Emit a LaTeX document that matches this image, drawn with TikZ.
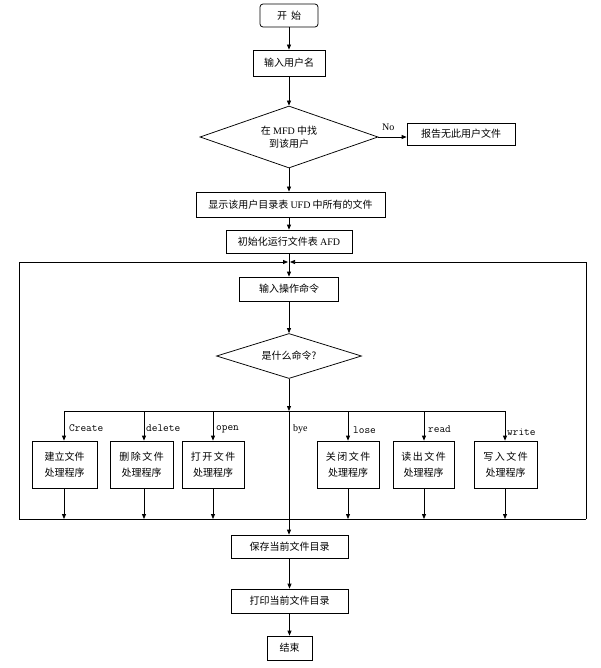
\documentclass[tikz,border=0pt]{standalone}
\usepackage{fontspec}
\setmainfont{Liberation Serif}
\newfontfamily\cjk{Noto Sans CJK SC}
\usetikzlibrary{shapes.geometric,arrows.meta}
\newcommand\lsk{\kern1.5pt}
\begin{document}
\begin{tikzpicture}[x=1pt,y=-1pt,
  box/.style={draw, line width=0.75pt, inner sep=0pt, align=center,
    font=\cjk\fontsize{10}{16}\selectfont},
  dia/.style={draw, line width=0.75pt, diamond, aspect=3, inner sep=0pt, align=center,
    font=\cjk\fontsize{10}{13}\selectfont},
  arr/.style={draw, line width=0.75pt, -{Triangle[length=5pt,width=4pt]}},
  ln/.style={draw, line width=0.75pt},
  lbl/.style={anchor=west, inner sep=0pt, font=\ttfamily\fontsize{11}{12}\selectfont},
  slbl/.style={anchor=west, inner sep=0pt, font=\rmfamily\fontsize{10}{12}\selectfont},
]
\useasboundingbox (0,0) rectangle (600,668);
% main column
\node[box, rounded corners=3pt, minimum width=58pt, minimum height=23pt] (start) at (289,15.5) {开\kern4pt 始};
\node[box, minimum width=72pt, minimum height=26pt] (inname) at (289,63) {输入用户名};
\node[dia, minimum width=178pt, minimum height=62pt] (d1) at (289,137) {在 {\rmfamily MFD} 中找\\到该用户};
\node[box, minimum width=108pt, minimum height=22pt] (report) at (461,134) {报告无此用户文件};
\node[box, minimum width=189pt, minimum height=25pt] (show) at (290.5,204.5) {显示该用户目录表 {\rmfamily UFD} 中所有的文件};
\node[box, minimum width=126pt, minimum height=23pt] (init) at (289,241.5) {初始化运行文件表 {\rmfamily AFD}};
\node[box, minimum width=99pt, minimum height=24pt] (cmd) at (289,289) {输入操作命令};
\node[dia, minimum width=145pt, minimum height=45pt] (d2) at (289,356) {是什么命令?};
% process boxes
\node[box, minimum width=65pt, minimum height=47pt] (pcreate) at (64.5,464.5) {建立文件\\处理程序};
\node[box, minimum width=63pt, minimum height=47pt] (pdelete) at (141.5,464.5) {删\lsk 除\lsk 文\lsk 件\\处理程序};
\node[box, minimum width=62pt, minimum height=47pt] (popen) at (213,464.5) {打\lsk 开\lsk 文\lsk 件\\处理程序};
\node[box, minimum width=62pt, minimum height=47pt] (pclose) at (348,464.5) {关\lsk 闭\lsk 文\lsk 件\\处理程序};
\node[box, minimum width=61pt, minimum height=47pt] (pread) at (423.5,464.5) {读\lsk 出\lsk 文\lsk 件\\处理程序};
\node[box, minimum width=63pt, minimum height=47pt] (pwrite) at (505.5,464.5) {写\lsk 入\lsk 文\lsk 件\\处理程序};
% lower column
\node[box, minimum width=117pt, minimum height=23pt] (save) at (289.5,546.5) {保存当前文件目录};
\node[box, minimum width=117pt, minimum height=24pt] (print) at (289.5,601) {打印当前文件目录};
\node[box, minimum width=45pt, minimum height=24pt] (stop) at (289.5,648) {结束};
% coordinates
\coordinate (fbl) at (19,519);
\coordinate (fbr) at (586,519);
\coordinate (ftl) at (19,262);
\coordinate (ftr) at (586,262);
\coordinate (ftm) at (289,262);
\coordinate (bc) at (64,411);
\coordinate (bd) at (144,411);
\coordinate (bo) at (213,411);
\coordinate (bm) at (289,411);
\coordinate (bl) at (348,411);
\coordinate (br) at (424,411);
\coordinate (bw) at (505,411);
% connectors
\draw[arr] (start) -- (inname);
\draw[arr] (inname) -- (d1);
\draw[arr] (d1.east) -- (d1.east -| report.west);
\node[slbl] (no) at (382,127) {No};
\draw[arr] (d1) -- (d1.south |- show.north);
\draw[arr] (init.north |- show.south) -- (init);
% loop frame
\draw[ln] (fbl) -- (fbr);
\draw[arr] (fbl) -- (ftl) -- ([xshift=-1pt]ftm);
\draw[arr] (fbr) -- (ftr) -- ([xshift=1pt]ftm);
\draw[arr] (init) -- (cmd);
\draw[arr] (cmd) -- (d2);
\draw[arr] (d2.south -| bm) -- (bm);
\draw[ln] (bc) -- (bw);
\draw[arr] (bm) -- (bm |- save.north);
% branches
\draw[arr] (bc) -- (bc |- pcreate.north);
\draw[arr] (bd) -- (bd |- pdelete.north);
\draw[arr] (bo) -- (bo |- popen.north);
\draw[arr] (bl) -- (bl |- pclose.north);
\draw[arr] (br) -- (br |- pread.north);
\draw[arr] (bw) -- (bw |- pwrite.north);
\draw[arr] (pcreate.south -| bc) -- (bc |- fbl);
\draw[arr] (pdelete.south -| bd) -- (bd |- fbl);
\draw[arr] (popen.south -| bo) -- (bo |- fbl);
\draw[arr] (pclose.south -| bl) -- (bl |- fbl);
\draw[arr] (pread.south -| br) -- (br |- fbl);
\draw[arr] (pwrite.south -| bw) -- (bw |- fbl);
% labels
\node[lbl] (lc) at (69,428) {Create};
\node[lbl] (ld) at (146,428) {delete};
\node[lbl] (lo) at (216,429) {open};
\node[slbl] (lb) at (293,429) {bye};
\node[lbl] (ll) at (353,430) {lose};
\node[lbl] (lr) at (428,429) {read};
\node[lbl] (lw) at (507,432) {write};
% bottom
\draw[arr] (save) -- (print);
\draw[arr] (print) -- (stop);
\end{tikzpicture}
\end{document}
